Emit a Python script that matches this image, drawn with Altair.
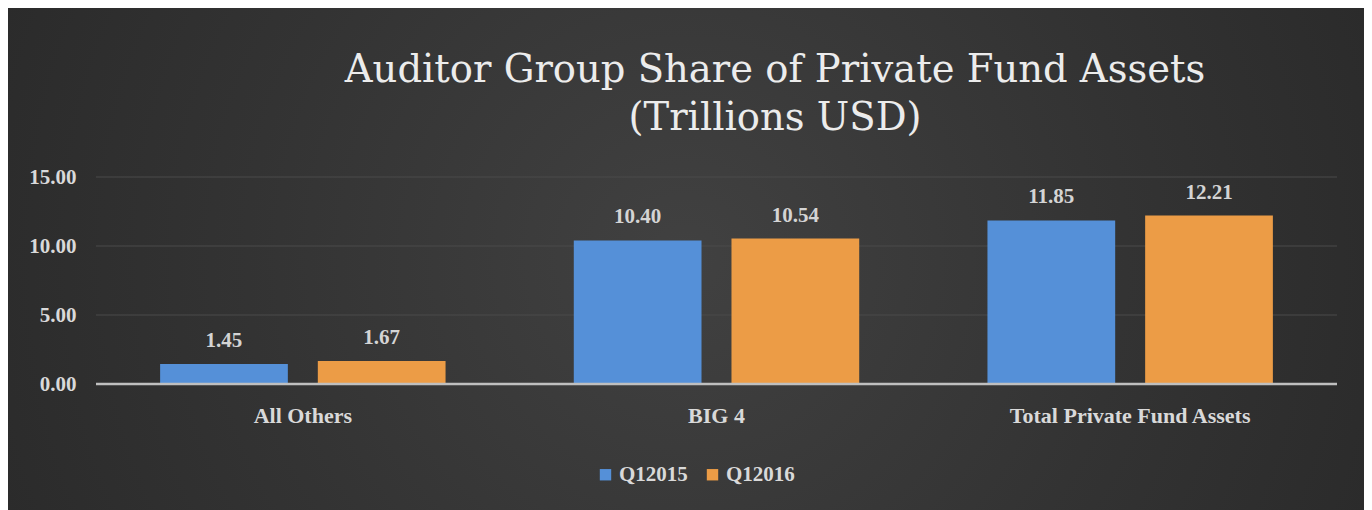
import altair as alt
import pandas as pd

title_lines = ["Auditor Group Share of Private Fund Assets", "(Trillions USD)"]
categories = ["All Others", "BIG 4", "Total Private Fund Assets"]
series = ["Q12015", "Q12016"]
q2015 = [1.45, 10.40, 11.85]
q2016 = [1.67, 10.54, 12.21]
y_ticks = [0, 5, 10, 15]
grid_values = [5, 10, 15]
colors = ["#5590d8", "#ec9c46"]

rows = []
for c, a, b in zip(categories, q2015, q2016):
    rows.append({"Category": c, "Period": series[0], "Value": a})
    rows.append({"Category": c, "Period": series[1], "Value": b})
df = pd.DataFrame(rows)

FONT = "Liberation Serif"
TFONT = "DejaVu Serif"
W, H = 1241, 207
PAD_L, PAD_T = 88, 169
TOTAL_W, TOTAL_H = 1356, 502
YSCALE = alt.Scale(domain=[0, 15], nice=False, zero=True)

bg = alt.Chart(alt.Data(values=[{"k": 1}])).mark_rect(
    clip=False,
    color=alt.Gradient(
        gradient="radial",
        stops=[alt.GradientStop(color="#414141", offset=0),
               alt.GradientStop(color="#333333", offset=0.45),
               alt.GradientStop(color="#242424", offset=1)],
        x1=0.5, y1=0.5, r1=0.0, x2=0.5, y2=0.5, r2=0.72,
    ),
).encode(
    x=alt.value(-PAD_L), x2=alt.value(TOTAL_W - PAD_L),
    y=alt.value(-PAD_T), y2=alt.value(TOTAL_H - PAD_T),
)

title = alt.Chart(alt.Data(values=[{"k": 1}])).mark_text(
    text=title_lines, font=TFONT, fontSize=38.5, color="#ececec",
    lineHeight=48, align="center", baseline="alphabetic", clip=False,
).encode(x=alt.value(679), y=alt.value(-95))

grid = alt.Chart(pd.DataFrame({"g": grid_values})).mark_rule(
    color="#4a4a4a", strokeWidth=1
).encode(y=alt.Y("g:Q", scale=YSCALE))

base = alt.Chart(df).encode(
    x=alt.X("Category:N", sort=categories,
            scale=alt.Scale(paddingInner=0.31, paddingOuter=0.155),
            axis=alt.Axis(title=None, labelAngle=0, labelFont=FONT, labelFontSize=22,
                          labelFontWeight="bold", labelColor="#d9d9d9", labelPadding=21,
                          labelLimit=500, ticks=False, domain=False, zindex=1)),
    xOffset=alt.XOffset("Period:N", sort=series,
                        scale=alt.Scale(paddingInner=0.19, paddingOuter=0)),
    y=alt.Y("Value:Q", scale=YSCALE,
            axis=alt.Axis(title=None, values=y_ticks, format=".2f", labelFont=FONT,
                          labelFontSize=21, labelFontWeight="bold", labelColor="#d9d9d9",
                          labelPadding=20, ticks=False, domain=False, grid=False,
                          zindex=1)),
)

bars = base.mark_bar().encode(
    color=alt.Color("Period:N", sort=series,
                    scale=alt.Scale(domain=series, range=colors),
                    legend=alt.Legend(title=None, orient="none", direction="horizontal",
                                      legendX=499, legendY=287, symbolType="square",
                                      symbolSize=130, symbolStrokeWidth=0,
                                      labelFont=FONT, labelFontSize=21,
                                      labelFontWeight="bold", labelColor="#d9d9d9",
                                      columnPadding=14, labelOffset=3, zindex=1)),
)

labels = base.mark_text(font=FONT, fontSize=21, fontWeight="bold", color="#d4d4d4",
                        dy=-17, baseline="alphabetic").encode(
    text=alt.Text("Value:Q", format=".2f"),
)

zero = alt.Chart(alt.Data(values=[{"z": 0}])).mark_rule(
    color="#bfbfbf", strokeWidth=2.5
).encode(y=alt.Y("z:Q", scale=YSCALE))

chart = alt.layer(bg, title, grid, bars, labels, zero).properties(
    width=W, height=H,
    padding={"left": PAD_L, "top": PAD_T, "right": TOTAL_W - PAD_L - W,
             "bottom": TOTAL_H - PAD_T - H},
    autosize=alt.AutoSizeParams(type="none"),
    background="#2b2b2b",
).configure_view(stroke=None)

chart.save("out.html", embed_options={"renderer": "svg", "actions": False})
